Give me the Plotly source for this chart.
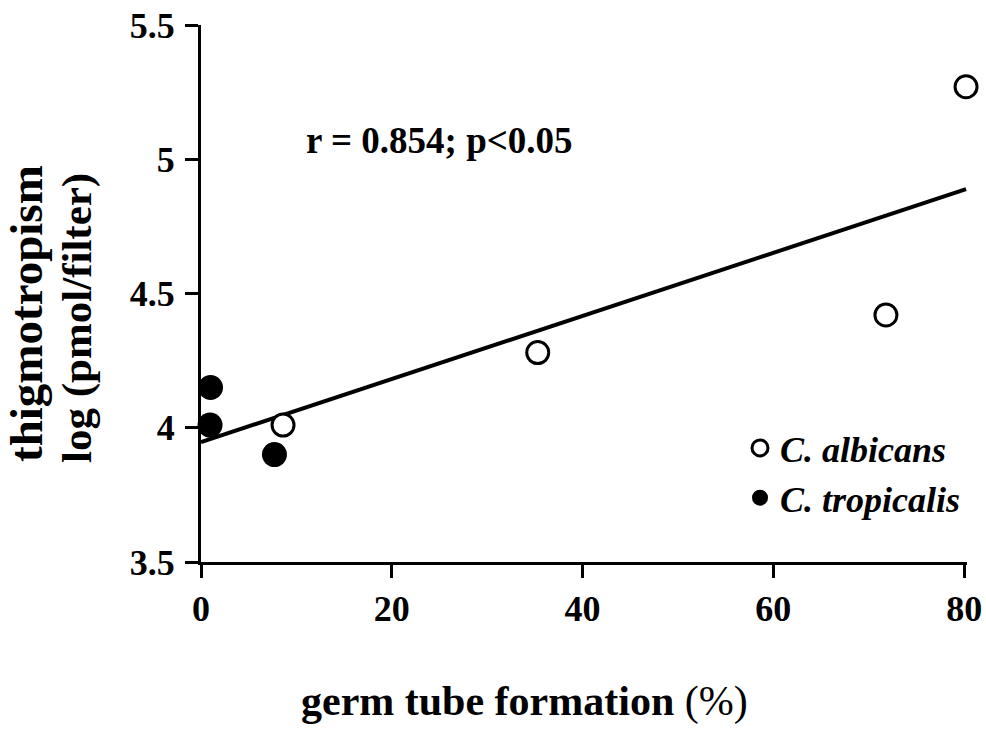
import numpy as np
import plotly.graph_objects as go

# Data
albicans_x = [8.6, 35.3, 71.8, 80.2]
albicans_y = [4.01, 4.28, 4.42, 5.27]
tropicalis_x = [1.0, 0.95, 7.7]
tropicalis_y = [4.15, 4.01, 3.90]

x_ticks = [0, 20, 40, 60, 80]
y_ticks = [3.5, 4, 4.5, 5, 5.5]
y_tick_labels = ["3.5", "4", "4.5", "5", "5.5"]

all_x = np.array(albicans_x + tropicalis_x)
all_y = np.array(albicans_y + tropicalis_y)
slope, intercept = np.polyfit(all_x, all_y, 1)
fit_x = np.array([0.0, all_x.max()])
fit_y = intercept + slope * fit_x

SERIF = "Liberation Serif, Times New Roman, serif"
W, H = 986, 731
L, R, T, B = 201, 19, 25, 169
PW = W - L - R
PH = H - T - B

fig = go.Figure()
fig.add_trace(go.Scatter(x=fit_x, y=fit_y, mode="lines",
                         line=dict(color="black", width=4),
                         showlegend=False, hoverinfo="skip"))
fig.add_trace(go.Scatter(x=albicans_x, y=albicans_y, mode="markers",
                         name="C. albicans", legendgroup="a",
                         marker=dict(size=22, color="white",
                                     line=dict(color="black", width=3)),
                         cliponaxis=False))
fig.add_trace(go.Scatter(x=tropicalis_x, y=tropicalis_y, mode="markers",
                         name="C. tropicalis", legendgroup="b",
                         marker=dict(size=25, color="black",
                                     line=dict(color="black", width=0)),
                         cliponaxis=False))

axis_common = dict(showgrid=False, zeroline=False, showline=True,
                   linecolor="black", linewidth=3, ticks="outside",
                   ticklen=13, tickwidth=2.5, tickcolor="black",
                   layer="below traces", automargin=False,
                   tickfont=dict(family=SERIF, size=36, color="black", weight="bold"))

fig.update_xaxes(range=[0, 80.3], tickvals=x_ticks, ticklabelstandoff=0, **axis_common)
fig.update_yaxes(range=[3.5, 5.5], tickvals=y_ticks, ticktext=y_tick_labels,
                 ticklabelstandoff=3, **axis_common)


def px(xp):
    return (xp - L) / PW


def py(yp):
    return 1 - (yp - T) / PH


fig.update_layout(
    width=W, height=H, autosize=False,
    margin=dict(l=L, r=R, t=T, b=B),
    plot_bgcolor="white", paper_bgcolor="white",
    showlegend=True,
    legend=dict(x=px(740), y=py(418), xanchor="left", yanchor="top",
                bgcolor="rgba(0,0,0,0)", traceorder="grouped",
                tracegroupgap=0,
                font=dict(family=SERIF, size=36, color="black",
                          style="italic", weight="bold")),
    annotations=[
        dict(text="<b>r = 0.854; p<0.05</b>", xref="paper", yref="paper",
             x=px(304), y=py(140), xanchor="left", yanchor="middle", showarrow=False,
             font=dict(family=SERIF, size=37, color="black")),
        dict(text="<b>germ tube formation </b>(%)", xref="paper", yref="paper",
             x=px(524), y=py(701),
             xanchor="center", yanchor="middle", showarrow=False,
             font=dict(family=SERIF, size=42, color="black")),
        dict(text="<b>thigmotropism</b>", xref="paper", yref="paper",
             x=px(26), y=py(314), textangle=-90,
             xanchor="center", yanchor="middle", showarrow=False,
             font=dict(family=SERIF, size=47, color="black")),
        dict(text="<b>log (pmol/filter)</b>", xref="paper", yref="paper",
             x=px(77), y=py(318), textangle=-90,
             xanchor="center", yanchor="middle", showarrow=False,
             font=dict(family=SERIF, size=43, color="black")),
    ],
)

fig.write_html("out.html",
               config={"displayModeBar": False, "responsive": False},
               post_script="document.body.style.margin='0px';document.body.style.overflow='hidden';")
